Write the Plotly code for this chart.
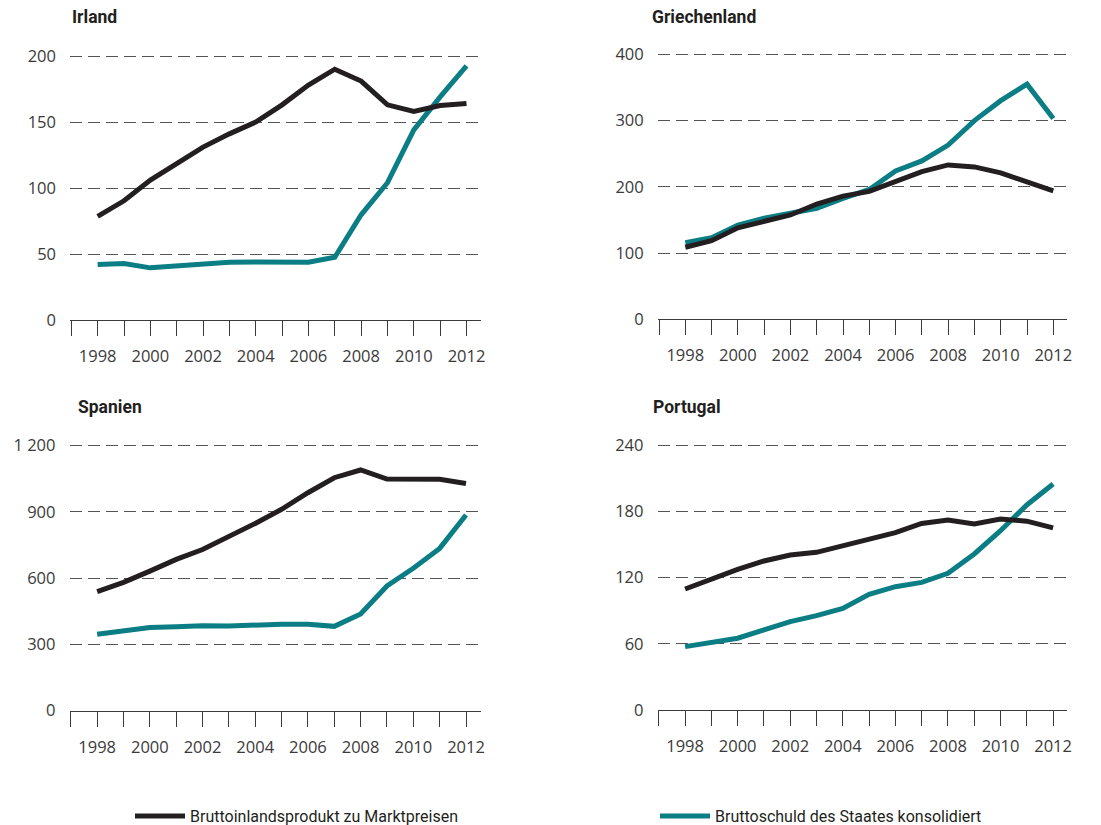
import plotly.graph_objects as go

years = list(range(1998, 2013))

# Bruttoinlandsprodukt zu Marktpreisen (GDP)
irl_gdp = [78.5, 90.3, 106, 118, 131, 141, 150, 163, 178, 190, 181, 163, 158, 162.5, 164]
grc_gdp = [108.7, 118.7, 138, 147, 157.5, 174, 186, 193, 208, 223, 233, 230, 221, 208, 194]
esp_gdp = [539, 581, 632, 685, 730, 788, 848, 912, 987, 1055, 1090, 1049, 1048, 1048, 1029]
prt_gdp = [109.6, 118.6, 127.4, 135, 140.4, 142.8, 148.8, 154, 160.6, 169, 172, 168.5, 173, 171, 165]

# Bruttoschuld des Staates konsolidiert (debt)
irl_debt = [42, 42.8, 39.5, 40.8, 41.8, 43.8, 44, 44.3, 43.8, 47.5, 79.7, 104, 144, 169, 192.5]
grc_debt = [115.7, 123, 142, 152.5, 160, 167.5, 182.6, 196, 224, 239, 263, 300, 330, 355, 303]
esp_debt = [346, 362, 377, 380, 385, 383, 389, 392, 391, 382, 438, 565, 645, 735, 886]
prt_debt = [57.4, 61.3, 65, 72.5, 80, 85.4, 92, 104.8, 111.7, 115.6, 123.8, 141.3, 162.4, 185.7, 204.7]

titles = ["Irland", "Griechenland", "Spanien", "Portugal"]
ytickvals = [[0, 50, 100, 150, 200], [0, 100, 200, 300, 400],
             [0, 300, 600, 900, 1200], [0, 60, 120, 180, 240]]
yticktext = [["0", "50", "100", "150", "200"], ["0", "100", "200", "300", "400"],
             ["0", "300", "600", "900", "1 200"], ["0", "60", "120", "180", "240"]]
gdp_name = "Bruttoinlandsprodukt zu Marktpreisen"
debt_name = "Bruttoschuld des Staates konsolidiert"

W, H = 1101, 825
OFF = 8  # page body margin offset
BLACK = "#231f20"
TEAL = "#0b7d84"
TICKFONT = dict(family="Open Sans", size=16.5, color="#3a3a3a")
LEGFONT = dict(family="Roboto", size=16, color="#231f20")


def px_x(p):
    return (p - OFF) / W


def px_y(p):
    return 1 - (p - OFF) / H


# panel geometry in screen pixels: (x_left, x_right, y_zero_px, y_top_tick_px, x_range)
panels = [
    (70, 481, 320, 56, [1996.95, 2012.55]),
    (657.7, 1066.7, 319.3, 54.3, [1996.95, 2012.51]),
    (69.5, 480.5, 710.7, 445.7, [1996.95, 2012.55]),
    (657.5, 1066.5, 710, 445, [1996.95, 2012.51]),
]
title_pos = [(70, 17), (650, 17), (76, 407), (651, 407)]

gdp = [irl_gdp, grc_gdp, esp_gdp, prt_gdp]
debt = [irl_debt, grc_debt, esp_debt, prt_debt]

fig = go.Figure()
layout = dict(
    width=W, height=H,
    margin=dict(l=0, r=0, t=0, b=0, autoexpand=False),
    paper_bgcolor="white", plot_bgcolor="white",
    showlegend=True,
    legend=dict(orientation="h", x=px_x(130), y=px_y(833), xanchor="left", yanchor="bottom",
                font=LEGFONT, bgcolor="rgba(0,0,0,0)", itemwidth=50),
    legend2=dict(orientation="h", x=px_x(655), y=px_y(833), xanchor="left", yanchor="bottom",
                 font=LEGFONT, bgcolor="rgba(0,0,0,0)", itemwidth=50),
    annotations=[],
)

for i in range(4):
    xl, xr, y0, ytop, xr_range = panels[i]
    ymax = ytickvals[i][-1]
    span = y0 - ytop
    top_px = y0 - span * 1.05
    xa = "xaxis" if i == 0 else f"xaxis{i+1}"
    ya = "yaxis" if i == 0 else f"yaxis{i+1}"
    xref = "x" if i == 0 else f"x{i+1}"
    yref = "y" if i == 0 else f"y{i+1}"
    layout[xa] = dict(
        domain=[px_x(xl), px_x(xr)], range=xr_range, anchor=yref,
        tickmode="linear", tick0=1998, dtick=2,
        ticks="outside", ticklen=15, tickwidth=1.3, tickcolor="#3a3a3a",
        minor=dict(tickmode="linear", tick0=1998, dtick=1, ticks="outside", ticklen=15,
                   tickwidth=1.3, tickcolor="#3a3a3a", showgrid=False),
        showline=True, linecolor="#3a3a3a", linewidth=1.3,
        showgrid=False, zeroline=False, tickfont=TICKFONT, ticklabelstandoff=6,
        fixedrange=True, automargin=False,
    )
    layout[ya] = dict(
        domain=[px_y(y0), px_y(top_px)], range=[0, ymax * 1.05], anchor=xref,
        tickmode="array", tickvals=ytickvals[i], ticktext=yticktext[i],
        showgrid=True, gridcolor="#555555", gridwidth=1.1, griddash="12px,6px",
        showline=False, zeroline=False, ticks="", tickfont=TICKFONT,
        ticklabelstandoff=13, fixedrange=True, automargin=False,
    )
    fig.add_trace(go.Scatter(x=years, y=debt[i], mode="lines", name=debt_name,
                             line=dict(color=TEAL, width=5), xaxis=xref, yaxis=yref,
                             showlegend=(i == 0), legend="legend2", legendgroup="debt"))
    fig.add_trace(go.Scatter(x=years, y=gdp[i], mode="lines", name=gdp_name,
                             line=dict(color=BLACK, width=5), xaxis=xref, yaxis=yref,
                             showlegend=(i == 0), legend="legend", legendgroup="gdp"))
    tx, ty = title_pos[i]
    layout["annotations"].append(dict(
        text="<b>" + titles[i] + "</b>", x=px_x(tx), y=px_y(ty), xref="paper", yref="paper",
        xanchor="left", yanchor="middle", showarrow=False,
        font=dict(family="Roboto", size=17.5, color="#231f20")))

fig.update_layout(**layout)
fig.write_html("out.html")
